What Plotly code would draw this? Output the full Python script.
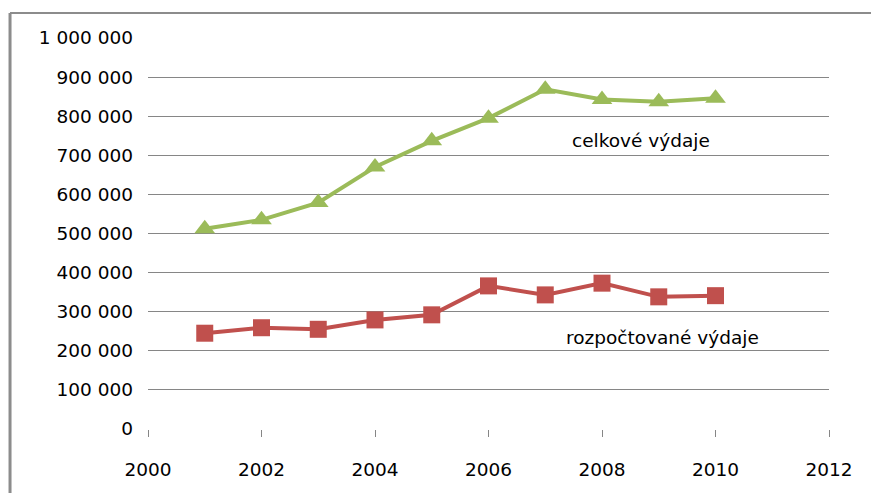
import plotly.graph_objects as go

# Roky a výdaje
years = [2001, 2002, 2003, 2004, 2005, 2006, 2007, 2008, 2009, 2010]
celkove = [512000, 535000, 579000, 670000, 737000, 795000, 869000, 843000, 837000, 846000]
rozpoctovane = [245000, 259000, 255000, 279000, 292000, 366000, 343000, 373000, 338000, 341000]

x_ticks = [2000, 2002, 2004, 2006, 2008, 2010, 2012]
y_ticks = [0, 100000, 200000, 300000, 400000, 500000, 600000, 700000, 800000, 900000, 1000000]

GREEN = "#9BBB59"
RED = "#C0504D"
GRID = "#868686"
FONT = "DejaVu Sans"

fig = go.Figure()
fig.add_trace(go.Scatter(
    x=years, y=celkove, mode="lines+markers",
    line=dict(color=GREEN, width=4),
    marker=dict(symbol="triangle-up", size=18, color=GREEN),
    showlegend=False,
))
fig.add_trace(go.Scatter(
    x=years, y=rozpoctovane, mode="lines+markers",
    line=dict(color=RED, width=4),
    marker=dict(symbol="square", size=17, color=RED),
    showlegend=False,
))

fig.add_annotation(x=2008.69, y=739000, text="celkové výdaje", showarrow=False,
                   font=dict(family=FONT, size=18.5, color="#000000"))
fig.add_annotation(x=2009.07, y=233000, text="rozpočtované výdaje", showarrow=False,
                   font=dict(family=FONT, size=18.5, color="#000000"))

# Rámeček grafu (horní a levá hrana)
fig.add_shape(type="line", xref="paper", yref="paper", x0=-0.2026, x1=1.07, y0=1.064, y1=1.064,
              line=dict(color="#8C8C8C", width=2))
fig.add_shape(type="line", xref="paper", yref="paper", x0=-0.2026, x1=-0.2026, y0=1.064, y1=-0.2,
              line=dict(color="#8C8C8C", width=3))

fig.update_layout(
    width=871, height=493,
    margin=dict(l=148, r=42, t=38, b=64),
    paper_bgcolor="white", plot_bgcolor="white",
    separators=", ",
    font=dict(family=FONT, size=18.5, color="#000000"),
    xaxis=dict(
        range=[2000, 2012], tickvals=x_ticks, ticktext=[str(v) for v in x_ticks],
        showgrid=False, zeroline=False, showline=False,
        ticks="outside", ticklen=7, tickcolor=GRID, tickwidth=1,
        ticklabelstandoff=17,
    ),
    yaxis=dict(
        range=[0, 1000000], tickvals=y_ticks, tickformat=",d",
        showgrid=True, gridcolor=GRID, gridwidth=1,
        zeroline=False, showline=False, ticks="",
        ticklabelstandoff=14,
    ),
)

fig.write_html("out.html")
